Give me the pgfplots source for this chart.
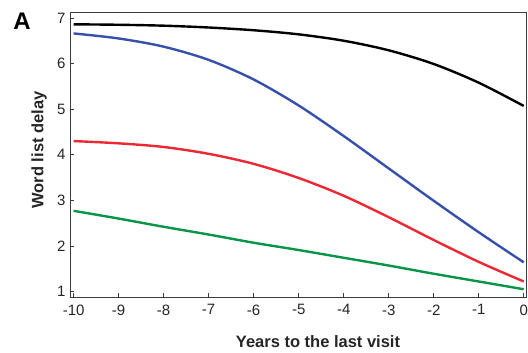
\documentclass[border=0pt]{standalone}
\usepackage{pgfplots}
\pgfplotsset{compat=1.18}
\usepackage{fontspec}
\setmainfont{Liberation Sans}
\definecolor{cblue}{RGB}{55,80,172}
\definecolor{cred}{RGB}{236,40,52}
\definecolor{cgreen}{RGB}{10,148,72}
\definecolor{frame}{RGB}{60,60,60}
\begin{document}
\begin{tikzpicture}[x=1pt,y=1pt]
\useasboundingbox (-70,-56) rectangle (458,297);
\begin{axis}[
  at={(0,0)}, anchor=south west,
  width=456pt, height=285pt, scale only axis,
  xmin=-10.08, xmax=0.05, ymin=0.88, ymax=7.13,
  xtick={-10,-9,...,0}, ytick={1,2,...,7},
  tick pos=left, tick align=inside,
  major tick length=4pt,
  axis line style={frame, line width=0.9pt},
  every tick/.style={frame, line width=0.8pt},
  /pgf/number format/assume math mode=true,
  ticklabel style={font=\fontsize{15}{17}\selectfont, text=black!85},
  xticklabel style={yshift=-4pt},
  yticklabel style={xshift=-1pt},
  clip=false,
]
\addplot[black, line width=2.4pt, smooth] coordinates {
(-10,6.86) (-9,6.85) (-8,6.83) (-7,6.79) (-6,6.73) (-5,6.64) (-4,6.50) (-3,6.29) (-2,5.99) (-1,5.58) (0,5.07)};
\addplot[cblue, line width=2.4pt, smooth] coordinates {
(-10,6.66) (-9,6.55) (-8,6.37) (-7,6.08) (-6,5.65) (-5,5.08) (-4,4.41) (-3,3.70) (-2,2.99) (-1,2.30) (0,1.64)};
\addplot[cred, line width=2.4pt, smooth] coordinates {
(-10,4.30) (-9,4.25) (-8,4.17) (-7,4.02) (-6,3.80) (-5,3.49) (-4,3.10) (-3,2.63) (-2,2.13) (-1,1.65) (0,1.22)};
\addplot[cgreen, line width=2.4pt, smooth] coordinates {
(-10,2.77) (-9,2.60) (-8,2.42) (-7,2.25) (-6,2.07) (-5,1.91) (-4,1.74) (-3,1.57) (-2,1.39) (-1,1.22) (0,1.05)};
\end{axis}
\node[font=\fontsize{24}{26}\selectfont\bfseries] at (-48,276) {A};
\node[font=\fontsize{16.5}{18}\selectfont\bfseries, rotate=90, text=black!85] at (-31,147) {Word list delay};
\node[font=\fontsize{16.5}{18}\selectfont\bfseries, text=black!85] at (248,-45) {Years to the last visit};
\end{tikzpicture}
\end{document}
